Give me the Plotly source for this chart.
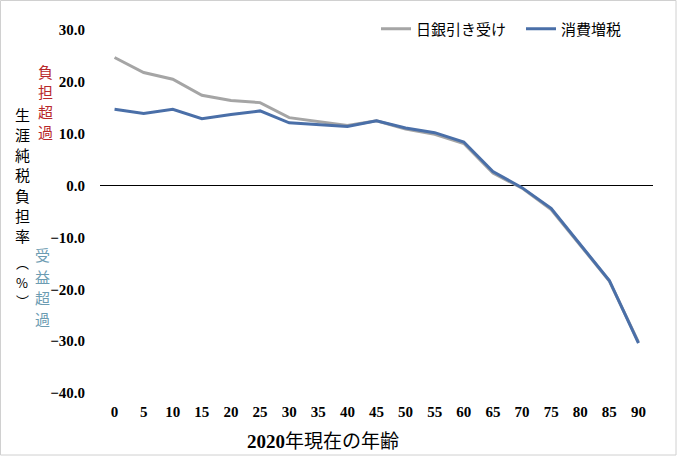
import plotly.graph_objects as go

ages = ["0", "5", "10", "15", "20", "25", "30", "35", "40", "45",
        "50", "55", "60", "65", "70", "75", "80", "85", "90"]
boj = [24.7, 21.8, 20.5, 17.4, 16.4, 16.0, 13.1, 12.4, 11.6, 12.5,
       10.9, 9.9, 8.1, 2.4, -0.5, -4.6, -11.4, -18.4, -30.2]
tax = [14.7, 13.9, 14.7, 12.9, 13.7, 14.4, 12.1, 11.8, 11.4, 12.5,
       11.1, 10.2, 8.4, 2.7, -0.4, -4.4, -11.3, -18.3, -30.4]
name_boj = "日銀引き受け"
name_tax = "消費増税"
ytitle = "生涯純税負担率"
burden = "負担超過"
benefit = "受益超過"
xtitle = "<b>2020</b>年現在の年齢"
cjk = "Noto Sans CJK JP"

fig = go.Figure()
fig.add_trace(go.Scatter(x=ages, y=boj, mode="lines", name=name_boj,
                         line=dict(color="#A5A5A5", width=3)))
fig.add_trace(go.Scatter(x=ages, y=tax, mode="lines", name=name_tax,
                         line=dict(color="#4A6FA8", width=3)))

W, H = 677, 456
L, R, T, B = 100, 24, 30, 63
pw, ph = W - L - R, H - T - B

def px(x):
    return (x - L) / pw

def py(y):
    return (H - B - y) / ph

tickfont = dict(family="Liberation Serif", size=15, color="black", weight="bold")
fig.update_layout(
    width=W, height=H,
    margin=dict(l=L, r=R, t=T, b=B, autoexpand=False),
    paper_bgcolor="white", plot_bgcolor="white",
    showlegend=True,
    legend=dict(orientation="h", x=px(376), y=py(29), xanchor="left", yanchor="middle",
                font=dict(family=cjk, size=15, color="black"),
                bgcolor="rgba(0,0,0,0)", itemwidth=30,
                entrywidth=100, entrywidthmode="pixels"),
    xaxis=dict(type="category", range=[-0.5, len(ages) - 0.5], showgrid=False,
               showline=False, ticks="", zeroline=False, tickfont=tickfont,
               ticklabelstandoff=8),
    yaxis=dict(range=[-40, 30], dtick=10, tickformat=".1f", showgrid=False,
               showline=False, ticks="", zeroline=True, zerolinecolor="black",
               zerolinewidth=1.2, tickfont=tickfont, ticklabelstandoff=14),
)

def vertical(chars, x, centers, size, color):
    for ch, yc in zip(chars, centers):
        fig.add_annotation(xref="paper", yref="paper", x=px(x), y=py(yc),
                           xanchor="center", yanchor="middle", showarrow=False,
                           text=ch, font=dict(family=cjk, size=size, color=color))

vertical(ytitle, 22, [114 + 20.3 * i for i in range(7)], 15, "black")
vertical("︵%︶", 22, [262, 282, 300], 13, "black")
vertical(burden, 45, [72 + 19.8 * i for i in range(4)], 15, "#B8282A")
vertical(benefit, 42, [255 + 21 * i for i in range(4)], 15, "#6C9CB2")

fig.add_annotation(xref="paper", yref="paper", x=px(323), y=py(442), xanchor="center",
                   yanchor="middle", showarrow=False, text=xtitle,
                   font=dict(family="Liberation Serif, " + cjk, size=19, color="black"))
fig.add_shape(type="rect", xref="paper", yref="paper",
              x0=px(0.5), x1=px(W - 1), y0=py(H - 1), y1=py(0.5),
              line=dict(color="#D0D0D0", width=1), fillcolor="rgba(0,0,0,0)", layer="below")

fig.write_html("out.html", config={"displayModeBar": False},
               post_script="document.body.style.margin='0';")
